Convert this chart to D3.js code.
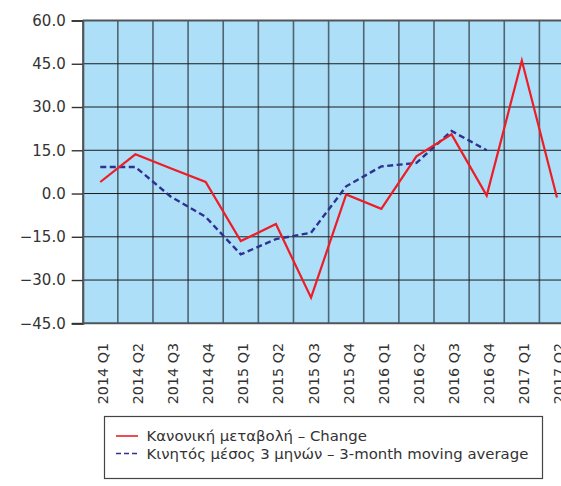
<!DOCTYPE html>
<html>
<head>
<meta charset="utf-8">
<script src="https://cdn.jsdelivr.net/npm/d3@7"></script>
<style>
  html, body { margin: 0; padding: 0; background: #fff; }
  svg { display: block; }
  text { font-family: "DejaVu Sans", sans-serif; fill: #333; }
</style>
</head>
<body>
<svg id="chart" width="561" height="486"></svg>
<script>
// Quarters on the x axis
const quarters = ["2014 Q1", "2014 Q2", "2014 Q3", "2014 Q4",
                  "2015 Q1", "2015 Q2", "2015 Q3", "2015 Q4",
                  "2016 Q1", "2016 Q2", "2016 Q3", "2016 Q4",
                  "2017 Q1", "2017 Q2"];

// Quarterly change
const change = [4.0, 13.6, 8.8, 4.0, -16.5, -10.6, -36.1, -0.3,
                -5.3, 12.9, 20.5, -0.7, 46.1, -1.4];

// 3-month moving average (ends at 2016 Q4)
const movingAvg = [9.2, 9.2, -1.0, -8.1, -21.1, -15.8, -13.6, 2.5,
                   9.4, 10.6, 21.7, 15.0];

const yTicks = [-45, -30, -15, 0, 15, 30, 45, 60];

const legendLabels = ["Κανονική μεταβολή – Change",
                      "Κινητός μέσος 3 μηνών – 3-month moving average"];

const svg = d3.select("#chart");

const plotLeft = 82.7, plotTop = 20.5, plotBottom = 323.3, band = 35.13;
const x = d3.scaleBand().domain(quarters)
  .range([plotLeft, plotLeft + band * quarters.length]).padding(0);
const y = d3.scaleLinear().domain([-45, 60]).range([plotBottom, plotTop]);
const plotRight = x.range()[1];

// plot background
svg.append("rect")
  .attr("x", plotLeft).attr("y", plotTop)
  .attr("width", plotRight - plotLeft).attr("height", plotBottom - plotTop)
  .attr("fill", "#addff8");

// vertical grid lines between quarters
svg.append("g").selectAll("line")
  .data(quarters.slice(1))
  .join("line")
  .attr("x1", d => x(d)).attr("x2", d => x(d))
  .attr("y1", plotTop).attr("y2", plotBottom)
  .attr("stroke", "#3f4f5a").attr("stroke-width", 1.6).attr("stroke-opacity", 0.85);

// horizontal grid lines
svg.append("g").selectAll("line")
  .data(yTicks.filter(t => t !== -45 && t !== 60))
  .join("line")
  .attr("x1", plotLeft).attr("x2", plotRight)
  .attr("y1", d => y(d)).attr("y2", d => y(d))
  .attr("stroke", "#1c1c1c").attr("stroke-width", 1);

// top and bottom frame
[60, -45].forEach(v => {
  svg.append("line")
    .attr("x1", plotLeft).attr("x2", plotRight)
    .attr("y1", y(v)).attr("y2", y(v))
    .attr("stroke", "#505558").attr("stroke-width", 2);
});

// y axis
const yAxis = d3.axisLeft(y).tickValues(yTicks).tickSize(11).tickPadding(6)
  .tickFormat(d3.format(".1f"));
const gy = svg.append("g").attr("transform", `translate(${plotLeft},0)`).call(yAxis);
gy.select(".domain").attr("stroke", "#505558").attr("stroke-width", 2.2);
gy.selectAll(".tick line").attr("stroke", "#333").attr("stroke-width", 1.4);
gy.selectAll(".tick text").attr("font-size", 15).attr("fill", "#333")
  .style("font-family", "'DejaVu Sans', sans-serif");

// x labels, rotated
svg.append("g").selectAll("text")
  .data(quarters)
  .join("text")
  .attr("transform", d => `translate(${x(d) + x.bandwidth() / 2 + 7.5},343) rotate(-90)`)
  .attr("text-anchor", "end")
  .attr("font-size", 14.3)
  .text(d => d);

const cx = d => x(d) + x.bandwidth() / 2;

// moving average line
svg.append("path")
  .datum(movingAvg)
  .attr("fill", "none")
  .attr("stroke", "#2e3192")
  .attr("stroke-width", 2.4)
  .attr("stroke-dasharray", "6,3.5")
  .attr("d", d3.line().x((d, i) => cx(quarters[i])).y(d => y(d)));

// change line
svg.append("path")
  .datum(change)
  .attr("fill", "none")
  .attr("stroke", "#ee1c25")
  .attr("stroke-width", 2.2)
  .attr("d", d3.line().x((d, i) => cx(quarters[i])).y(d => y(d)));

// legend
const lg = svg.append("g");
lg.append("rect")
  .attr("x", 104.5).attr("y", 416.5).attr("width", 438).attr("height", 62)
  .attr("fill", "#fff").attr("stroke", "#444").attr("stroke-width", 1.2);
const rows = [
  { label: legendLabels[0], color: "#ee1c25", dash: null, lineY: 436, textY: 441 },
  { label: legendLabels[1], color: "#2e3192", dash: "5,3", lineY: 453.5, textY: 459 }
];
rows.forEach(r => {
  lg.append("line")
    .attr("x1", 116).attr("x2", 138).attr("y1", r.lineY).attr("y2", r.lineY)
    .attr("stroke", r.color).attr("stroke-width", 1.6)
    .attr("stroke-dasharray", r.dash);
  lg.append("text")
    .attr("x", 146.5).attr("y", r.textY)
    .attr("font-size", 14.9)
    .text(r.label);
});
</script>
</body>
</html>
